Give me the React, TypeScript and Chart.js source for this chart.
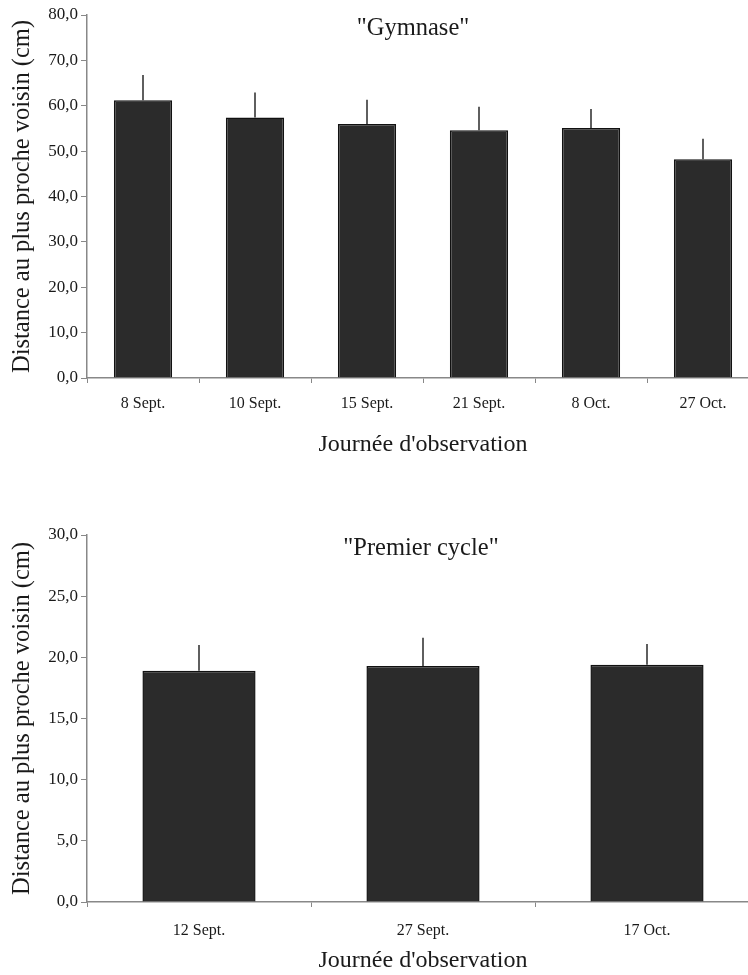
import React, { useEffect, useRef } from "react";
import { Chart, registerables } from "chart.js";

Chart.register(...registerables);

const SERIF = "'Liberation Serif', 'Times New Roman', serif";

// ---- Data: "Gymnase" ----
const gymTitle = '"Gymnase"';
const gymLabels = ["8 Sept.", "10 Sept.", "15 Sept.", "21 Sept.", "8 Oct.", "27 Oct."];
const gymValues = [61.2, 57.4, 56.0, 54.6, 55.1, 48.2];
const gymErrors = [5.6, 5.5, 5.3, 5.2, 4.2, 4.5];
const gymMax = 80;
const gymStep = 10;

// ---- Data: "Premier cycle" ----
const cycleTitle = '"Premier cycle"';
const cycleLabels = ["12 Sept.", "27 Sept.", "17 Oct."];
const cycleValues = [18.9, 19.3, 19.4];
const cycleErrors = [2.1, 2.3, 1.7];
const cycleMax = 30;
const cycleStep = 5;

const yTitle = "Distance au plus proche voisin (cm)";
const xTitle = "Journée d'observation";

const fmt = (v: number) => v.toFixed(1).replace(".", ",");

type PanelProps = {
  title: string;
  titleShift: number;
  labels: string[];
  values: number[];
  errors: number[];
  max: number;
  step: number;
  barFrac: number;
  width: number;
  height: number;
  top: number;
  areaTop: number;
  areaBottom: number;
  xTitlePad: number;
  xTickPad: number;
};

function BarPanel(p: PanelProps) {
  const ref = useRef<HTMLCanvasElement | null>(null);
  useEffect(() => {
    if (!ref.current) return;
    const errorBars = {
      id: "errorBars",
      afterDatasetsDraw(chart: any) {
        const meta = chart.getDatasetMeta(0);
        const ys = chart.scales.y;
        const ctx = chart.ctx;
        ctx.save();
        ctx.strokeStyle = "#2a2a2a";
        ctx.lineWidth = 1.5;
        meta.data.forEach((el: any, i: number) => {
          const yTop = ys.getPixelForValue(p.values[i] + p.errors[i]);
          ctx.beginPath();
          ctx.moveTo(el.x, el.y);
          ctx.lineTo(el.x, yTop);
          ctx.stroke();
        });
        ctx.restore();
      },
    };
    const innerTitle = {
      id: "innerTitle",
      afterDraw(chart: any) {
        const { ctx, chartArea } = chart;
        ctx.save();
        ctx.font = `24.5px ${SERIF}`;
        ctx.fillStyle = "#1a1a1a";
        ctx.textAlign = "center";
        ctx.textBaseline = "alphabetic";
        ctx.fillText(p.title, (chartArea.left + chartArea.right) / 2 + p.titleShift, chartArea.top + 20);
        ctx.restore();
      },
    };
    const chart = new Chart(ref.current, {
      type: "bar",
      data: {
        labels: p.labels,
        datasets: [
          {
            data: p.values,
            backgroundColor: "#2b2b2b",
            borderColor: "#111111",
            borderWidth: 1.5,
            categoryPercentage: 1,
            barPercentage: p.barFrac,
          },
        ],
      },
      options: {
        responsive: false,
        animation: false,
        devicePixelRatio: 1,
        layout: { padding: { top: p.areaTop, right: 1, left: 0, bottom: 0 } },
        plugins: { legend: { display: false }, tooltip: { enabled: false }, title: { display: false } },
        scales: {
          x: {
            grid: {
              display: true,
              drawOnChartArea: false,
              drawTicks: true,
              tickLength: 5,
              color: "#888888",
              offset: true,
            },
            border: { display: true, color: "#888888", width: 1.5 },
            ticks: { color: "#1a1a1a", font: { family: SERIF, size: 16 }, padding: p.xTickPad, maxRotation: 0 },
            title: {
              display: true,
              text: xTitle,
              color: "#1a1a1a",
              font: { family: SERIF, size: 24 },
              padding: { top: 0, bottom: p.xTitlePad },
            },
            afterFit(scale: any) {
              scale.height = p.height - p.areaBottom;
            },
          },
          y: {
            min: 0,
            max: p.max,
            grid: {
              display: true,
              drawOnChartArea: false,
              drawTicks: true,
              tickLength: 6,
              color: "#888888",
            },
            border: { display: true, color: "#888888", width: 1.5 },
            ticks: {
              stepSize: p.step,
              color: "#1a1a1a",
              font: { family: SERIF, size: 17 },
              padding: 3,
              callback: (v: any) => fmt(Number(v)),
            },
            title: {
              display: true,
              text: yTitle,
              color: "#1a1a1a",
              font: { family: SERIF, size: 24.5 },
              padding: { top: 8, bottom: 0 },
            },
            afterFit(scale: any) {
              scale.width = 87;
            },
          },
        },
      },
      plugins: [errorBars, innerTitle],
    });
    return () => chart.destroy();
  }, []);
  return (
    <canvas
      ref={ref}
      width={p.width}
      height={p.height}
      style={{ position: "absolute", left: 0, top: p.top, width: p.width, height: p.height }}
    />
  );
}

export default function App() {
  return (
    <div
      style={{
        position: "absolute",
        left: 0,
        top: 0,
        width: 748,
        height: 975,
        overflow: "hidden",
        background: "#ffffff",
      }}
    >
      <BarPanel
        title={gymTitle}
        titleShift={-10}
        labels={gymLabels}
        values={gymValues}
        errors={gymErrors}
        max={gymMax}
        step={gymStep}
        barFrac={0.52}
        width={760}
        height={470}
        top={0}
        areaTop={15}
        areaBottom={378}
        xTitlePad={11}
        xTickPad={11}
      />
      <BarPanel
        title={cycleTitle}
        titleShift={-2}
        labels={cycleLabels}
        values={cycleValues}
        errors={cycleErrors}
        max={cycleMax}
        step={cycleStep}
        barFrac={0.505}
        width={760}
        height={455}
        top={520}
        areaTop={15}
        areaBottom={382}
        xTitlePad={0}
        xTickPad={14}
      />
    </div>
  );
}
